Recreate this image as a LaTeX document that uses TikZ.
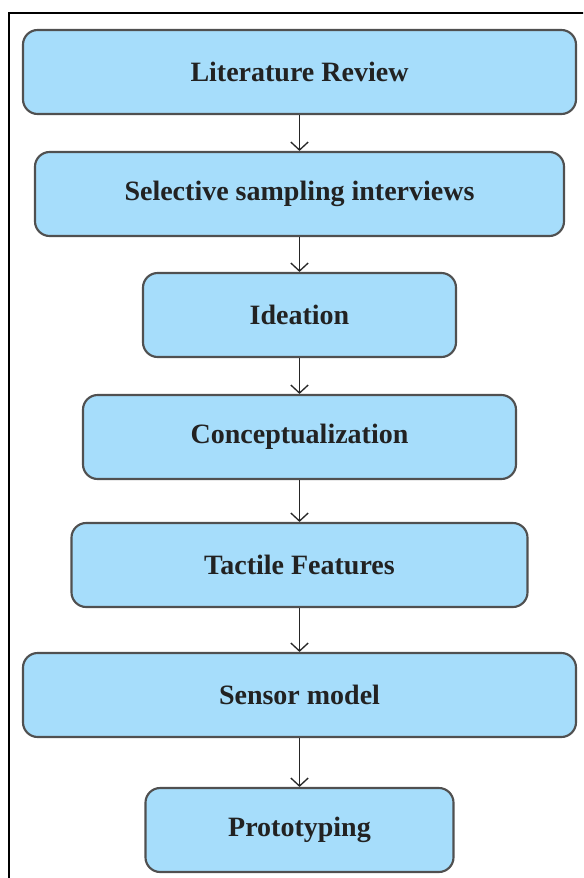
\documentclass[tikz,border=0pt]{standalone}
\usepackage{fontspec}
\setmainfont{Liberation Serif}
\usetikzlibrary{arrows.meta}
\definecolor{boxblue}{RGB}{166,221,251}
\definecolor{boxline}{RGB}{80,80,80}
\definecolor{txtdark}{RGB}{34,34,34}

\tikzset{
  stage/.style={draw=boxline, fill=boxblue, line width=1.6pt, rounded corners=11pt,
    minimum height=63pt, text=txtdark, font=\fontsize{21}{25}\selectfont\bfseries},
  flow/.style={-{Straight Barb[width=13pt,length=6pt,line width=1pt]}, line width=1.1pt, black!85}
}

\begin{document}
\begin{tikzpicture}[x=0.75pt,y=-0.75pt]
\clip (0,0) rectangle (583,878);
% outer frame, runs off the right and bottom edges
\draw[line width=1.5pt] (9,13) rectangle (620,920);

\node[stage, minimum width=414.75pt] (litrev) at (299.5,72) {Literature Review};
\node[stage, minimum width=396.75pt] (interviews) at (299.5,194) {Selective sampling interviews};
\node[stage, minimum width=234.75pt] (ideation) at (299.5,315) {Ideation};
\node[stage, minimum width=324.75pt] (concept) at (299.5,437) {Conceptualization};
\node[stage, minimum width=342pt] (tactile) at (299.5,565) {Tactile Features};
\node[stage, minimum width=414.75pt] (sensor) at (299.5,695) {Sensor model};
\node[stage, minimum width=231pt] (proto) at (299.5,830) {Prototyping};

\foreach \a/\b in {litrev/interviews, interviews/ideation, ideation/concept, concept/tactile, tactile/sensor, sensor/proto}
    \draw[flow] (\a) -- (\b);
\end{tikzpicture}
\end{document}
